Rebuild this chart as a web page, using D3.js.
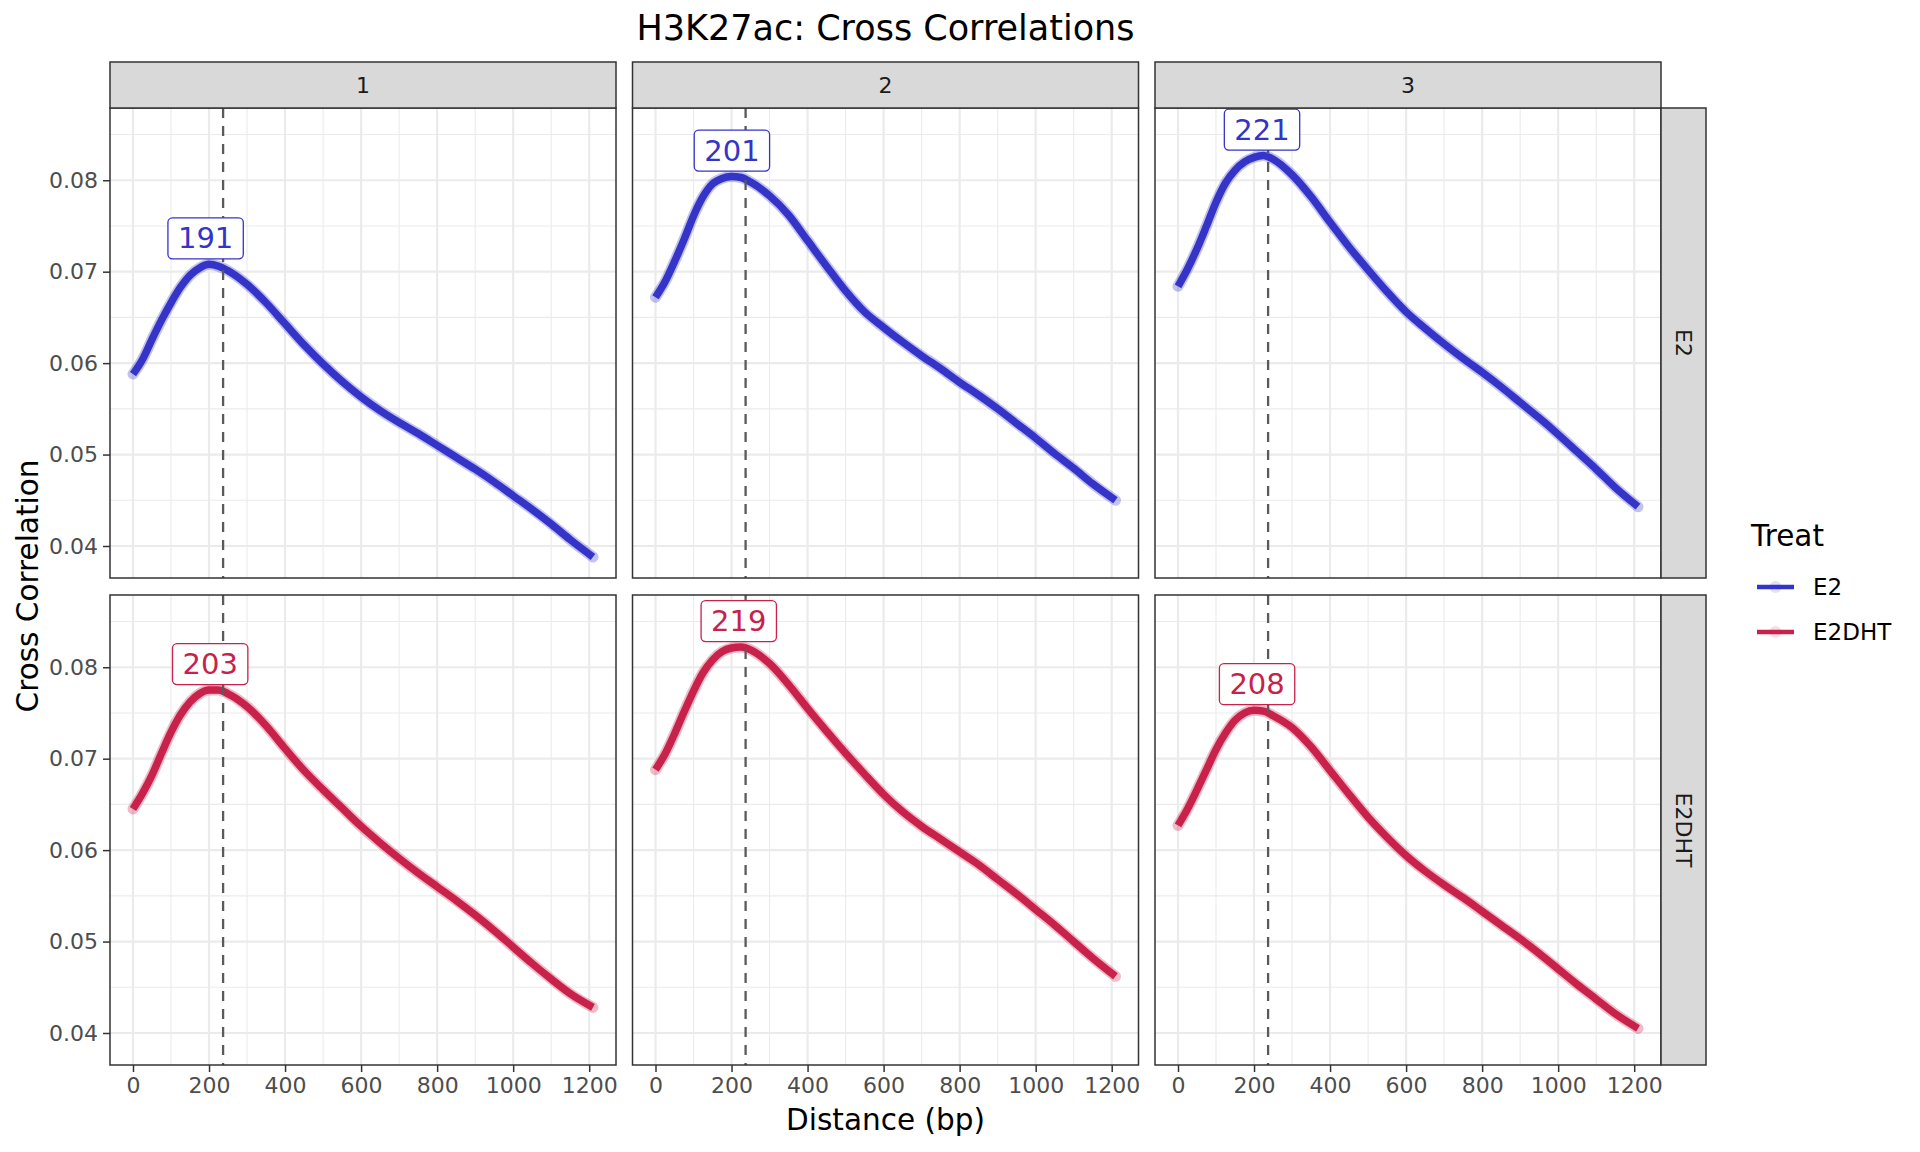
<!DOCTYPE html>
<html><head><meta charset="utf-8">
<script src="https://cdn.jsdelivr.net/npm/d3@7"></script>
<style>body{margin:0;background:#fff;} text{font-family:"DejaVu Sans",sans-serif;}</style>
</head><body><svg id="chart" width="1920" height="1152"></svg>
<script>
// ---------------- DATA ----------------
const replicates = ["1", "2", "3"];
const treatments = ["E2", "E2DHT"];
const distance = [0, 25, 50, 75, 100, 125, 150, 175, 200, 225, 250, 300, 350, 400, 450, 500, 550, 600, 650, 700, 750, 800, 850, 900, 950, 1000, 1050, 1100, 1150, 1210];

const cc_E2_rep1 = [0.0588, 0.0604, 0.0626, 0.0647, 0.0666, 0.0683, 0.0696, 0.0704, 0.0708, 0.0706, 0.0701, 0.0686, 0.0666, 0.0643, 0.0620, 0.0599, 0.0580, 0.0563, 0.0548, 0.0535, 0.0523, 0.0510, 0.0497, 0.0484, 0.0470, 0.0455, 0.0440, 0.0424, 0.0407, 0.0388];
const cc_E2_rep2 = [0.0672, 0.0689, 0.0711, 0.0735, 0.0761, 0.0782, 0.0796, 0.0802, 0.0804, 0.0803, 0.0798, 0.0783, 0.0762, 0.0734, 0.0706, 0.0679, 0.0656, 0.0639, 0.0623, 0.0608, 0.0594, 0.0579, 0.0565, 0.0550, 0.0534, 0.0518, 0.0501, 0.0485, 0.0468, 0.0450];
const cc_E2_rep3 = [0.0684, 0.0703, 0.0725, 0.0750, 0.0776, 0.0797, 0.0811, 0.0820, 0.0825, 0.0827, 0.0823, 0.0806, 0.0782, 0.0754, 0.0727, 0.0702, 0.0678, 0.0656, 0.0638, 0.0621, 0.0605, 0.0590, 0.0574, 0.0557, 0.0540, 0.0522, 0.0503, 0.0484, 0.0464, 0.0443];
const cc_E2DHT_rep1 = [0.0645, 0.0662, 0.0682, 0.0706, 0.0729, 0.0748, 0.0762, 0.0771, 0.0775, 0.0775, 0.0771, 0.0757, 0.0736, 0.0711, 0.0687, 0.0666, 0.0646, 0.0626, 0.0608, 0.0591, 0.0575, 0.0560, 0.0545, 0.0529, 0.0512, 0.0494, 0.0476, 0.0459, 0.0443, 0.0428];
const cc_E2DHT_rep2 = [0.0688, 0.0705, 0.0727, 0.0751, 0.0774, 0.0794, 0.0808, 0.0817, 0.0821, 0.0822, 0.0819, 0.0804, 0.0781, 0.0755, 0.0730, 0.0706, 0.0683, 0.0661, 0.0642, 0.0626, 0.0612, 0.0598, 0.0584, 0.0568, 0.0552, 0.0535, 0.0518, 0.0500, 0.0482, 0.0462];
const cc_E2DHT_rep3 = [0.0627, 0.0645, 0.0666, 0.0688, 0.0710, 0.0728, 0.0742, 0.0750, 0.0753, 0.0752, 0.0747, 0.0734, 0.0713, 0.0687, 0.0661, 0.0636, 0.0614, 0.0594, 0.0577, 0.0562, 0.0548, 0.0533, 0.0518, 0.0503, 0.0487, 0.0470, 0.0453, 0.0437, 0.0421, 0.0405];

const peakDistance_E2 = [191, 201, 221];
const peakCC_E2 = [0.0708, 0.0804, 0.0827];
const peakDistance_E2DHT = [203, 219, 208];
const peakCC_E2DHT = [0.0775, 0.0822, 0.0753];

const fragmentLength = 237;
const xTicks = [0, 200, 400, 600, 800, 1000, 1200];
const xMinor = [100, 300, 500, 700, 900, 1100];
const yTicks = [0.04, 0.05, 0.06, 0.07, 0.08];
const yMinor = [0.045, 0.055, 0.065, 0.075, 0.085];
const yTickLabels = ["0.04", "0.05", "0.06", "0.07", "0.08"];

const seriesValues = {
  E2: [cc_E2_rep1, cc_E2_rep2, cc_E2_rep3],
  E2DHT: [cc_E2DHT_rep1, cc_E2DHT_rep2, cc_E2DHT_rep3]
};
const peaks = {
  E2: {x: peakDistance_E2, y: peakCC_E2},
  E2DHT: {x: peakDistance_E2DHT, y: peakCC_E2DHT}
};
const colors = {E2: "#3434C8", E2DHT: "#C8214A"};

// ---------------- LAYOUT ----------------
const svg = d3.select("#chart");
const panelW = 506, panelH = 470;
const colX = [110, 632.5, 1155];
const rowY = [108, 595];
const stripH = 46, stripW = 45;

const x = d3.scaleLinear().domain([-60.5, 1270.5]).range([0, panelW]);
const y = d3.scaleLinear().domain([0.0365, 0.0879]).range([panelH, 0]);

svg.append("rect").attr("width", 1920).attr("height", 1152).attr("fill", "#fff");

// Title
svg.append("text").attr("x", 885.5).attr("y", 40).attr("text-anchor", "middle")
  .attr("font-size", 35).attr("fill", "#000").text("H3K27ac: Cross Correlations");

const line = d3.line().x((d, i) => x(distance[i])).y(d => y(d)).curve(d3.curveMonotoneX);

treatments.forEach((tr, r) => {
  replicates.forEach((rep, c) => {
    const g = svg.append("g").attr("transform", `translate(${colX[c]},${rowY[r]})`);
    g.append("rect").attr("width", panelW).attr("height", panelH).attr("fill", "#fff");
    // minor grid
    g.selectAll(".xmin").data(xMinor).join("line")
      .attr("x1", d => x(d)).attr("x2", d => x(d)).attr("y1", 0).attr("y2", panelH)
      .attr("stroke", "#EBEBEB").attr("stroke-width", 1.1);
    g.selectAll(".ymin").data(yMinor).join("line")
      .attr("y1", d => y(d)).attr("y2", d => y(d)).attr("x1", 0).attr("x2", panelW)
      .attr("stroke", "#EBEBEB").attr("stroke-width", 1.1);
    // major grid
    g.selectAll(".xmaj").data(xTicks).join("line")
      .attr("x1", d => x(d)).attr("x2", d => x(d)).attr("y1", 0).attr("y2", panelH)
      .attr("stroke", "#EBEBEB").attr("stroke-width", 2.2);
    g.selectAll(".ymaj").data(yTicks).join("line")
      .attr("y1", d => y(d)).attr("y2", d => y(d)).attr("x1", 0).attr("x2", panelW)
      .attr("stroke", "#EBEBEB").attr("stroke-width", 2.2);

    const vals = seriesValues[tr][c];
    // halo (translucent points look)
    g.append("path").datum(vals).attr("d", line).attr("fill", "none")
      .attr("stroke", colors[tr]).attr("stroke-width", 11).attr("stroke-opacity", 0.3)
      .attr("stroke-linecap", "round").attr("stroke-linejoin", "round");
    g.append("path").datum(vals).attr("d", line).attr("fill", "none")
      .attr("stroke", colors[tr]).attr("stroke-width", 7.5)
      .attr("stroke-linejoin", "round");

    // dashed vline
    g.append("line").attr("x1", x(fragmentLength)).attr("x2", x(fragmentLength))
      .attr("y1", 0).attr("y2", panelH).attr("stroke", "#5A5A5A")
      .attr("stroke-width", 2.3).attr("stroke-dasharray", "10,8");

    // label
    const px = peaks[tr].x[c], py = peaks[tr].y[c];
    const lab = g.append("g").attr("transform", `translate(${x(px)},${y(py) - 26})`);
    const txt = lab.append("text").attr("text-anchor", "middle").attr("dominant-baseline", "central")
      .attr("font-size", 29).attr("fill", colors[tr]).text(String(px));
    const bw = txt.node().getComputedTextLength() + 20;
    lab.insert("rect", "text").attr("x", -bw / 2).attr("y", -20.5).attr("width", bw).attr("height", 41)
      .attr("rx", 4.5).attr("fill", "#fff").attr("stroke", colors[tr]).attr("stroke-width", 1.3);

    // border
    g.append("rect").attr("width", panelW).attr("height", panelH).attr("fill", "none")
      .attr("stroke", "#333333").attr("stroke-width", 1.5);

    // y axis on first column
    if (c === 0) {
      const ya = g.append("g").call(d3.axisLeft(y).tickValues(yTicks).tickFormat((d, i) => yTickLabels[i]).tickSize(7).tickPadding(5));
      ya.select(".domain").remove();
      ya.selectAll("line").attr("stroke", "#333333").attr("stroke-width", 1.5);
      ya.selectAll("text").attr("font-size", 22).attr("fill", "#4D4D4D").attr("font-family", "DejaVu Sans");
    }
    // x axis on bottom row
    if (r === 1) {
      const xa = g.append("g").attr("transform", `translate(0,${panelH})`)
        .call(d3.axisBottom(x).tickValues(xTicks).tickFormat(d3.format("d")).tickSize(7).tickPadding(5));
      xa.select(".domain").remove();
      xa.selectAll("line").attr("stroke", "#333333").attr("stroke-width", 1.5);
      xa.selectAll("text").attr("font-size", 22).attr("fill", "#4D4D4D").attr("font-family", "DejaVu Sans");
    }
    // top strips
    if (r === 0) {
      const s = svg.append("g").attr("transform", `translate(${colX[c]},${rowY[0] - stripH})`);
      s.append("rect").attr("width", panelW).attr("height", stripH).attr("fill", "#D9D9D9")
        .attr("stroke", "#333333").attr("stroke-width", 1.5);
      s.append("text").attr("x", panelW / 2).attr("y", stripH / 2).attr("text-anchor", "middle")
        .attr("dominant-baseline", "central").attr("font-size", 22).attr("fill", "#1A1A1A").text(rep);
    }
    // right strips
    if (c === 2) {
      const s = svg.append("g").attr("transform", `translate(${colX[2] + panelW},${rowY[r]})`);
      s.append("rect").attr("width", stripW).attr("height", panelH).attr("fill", "#D9D9D9")
        .attr("stroke", "#333333").attr("stroke-width", 1.5);
      s.append("text").attr("transform", `translate(${stripW / 2},${panelH / 2}) rotate(90)`)
        .attr("text-anchor", "middle").attr("dominant-baseline", "central")
        .attr("font-size", 22).attr("fill", "#1A1A1A").text(tr);
    }
  });
});

// Axis titles
svg.append("text").attr("x", 885.5).attr("y", 1130).attr("text-anchor", "middle")
  .attr("font-size", 29.5).attr("fill", "#000").text("Distance (bp)");
svg.append("text").attr("transform", "translate(28,586) rotate(-90)").attr("text-anchor", "middle")
  .attr("dominant-baseline", "central").attr("font-size", 29.5).attr("fill", "#000").text("Cross Correlation");

// Legend
const lg = svg.append("g").attr("transform", "translate(1751,0)");
lg.append("text").attr("x", 0).attr("y", 546).attr("font-size", 29.5).attr("fill", "#000").text("Treat");
treatments.forEach((tr, i) => {
  const ky = 587 + i * 45;
  lg.append("line").attr("x1", 6).attr("x2", 43).attr("y1", ky).attr("y2", ky)
    .attr("stroke", colors[tr]).attr("stroke-width", 4.5);
  lg.append("circle").attr("cx", 24.5).attr("cy", ky).attr("r", 6).attr("fill", colors[tr]).attr("fill-opacity", 0.15);
  lg.append("text").attr("x", 62).attr("y", ky).attr("dominant-baseline", "central")
    .attr("font-size", 23).attr("fill", "#000").text(tr);
});
</script></body></html>
